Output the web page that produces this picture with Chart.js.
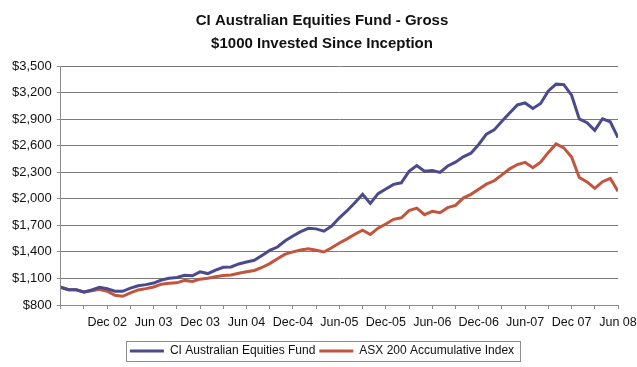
<!DOCTYPE html>
<html>
<head>
<meta charset="utf-8">
<script src="https://cdn.jsdelivr.net/npm/chart.js@4.4.1/dist/chart.umd.min.js"></script>
<style>
  html, body { margin: 0; padding: 0; background: #fff; }
  #wrap { width: 637px; height: 367px; }
</style>
</head>
<body>
<div id="wrap"><canvas id="chart" width="637" height="367"></canvas></div>
<script>
// monthly values, Jun 02 .. Jun 08 (73 points)
const fundValues = [
  1000, 972, 972, 947, 970, 999, 983, 956, 955, 990,
  1018, 1030, 1048, 1082, 1101, 1110, 1135, 1130, 1175, 1155,
  1195, 1226, 1230, 1264, 1286, 1305, 1360, 1417, 1455, 1525,
  1580, 1628, 1666, 1660, 1634, 1692, 1785, 1865, 1956, 2052,
  1947, 2058, 2110, 2163, 2180, 2310, 2375, 2312, 2318, 2297,
  2370, 2413, 2474, 2515, 2613, 2730, 2778, 2875, 2968, 3060,
  3083, 3021, 3077, 3218, 3295, 3290, 3170, 2903, 2860, 2773,
  2904, 2870, 2690
];
const asxValues = [
  1000, 972, 972, 945, 962, 978, 955, 910, 898, 938,
  970, 985, 1003, 1035, 1045, 1050, 1078, 1065, 1092, 1103,
  1118, 1133, 1140, 1158, 1176, 1190, 1224, 1268, 1323, 1375,
  1400, 1422, 1434, 1418, 1399, 1446, 1500, 1547, 1600, 1646,
  1597, 1668, 1715, 1768, 1785, 1866, 1894, 1820, 1858, 1842,
  1900, 1926, 2008, 2050, 2107, 2165, 2203, 2270, 2338, 2387,
  2412, 2351, 2414, 2524, 2620, 2575, 2471, 2240, 2190, 2118,
  2193, 2230, 2085
];
// labelled every 6 months starting at Dec 02 (month index 6)
const xTickLabels = ['Dec 02', 'Jun 03', 'Dec 03', 'Jun 04', 'Dec-04', 'Jun-05',
  'Dec-05', 'Jun-06', 'Dec-06', 'Jun-07', 'Dec 07', 'Jun 08'];
const seriesNames = ['CI Australian Equities Fund', 'ASX 200 Accumulative Index'];
const titleLines = ['CI Australian Equities Fund - Gross', '$1000 Invested Since Inception'];

const FONT = "Arial, 'Liberation Sans', sans-serif";
const BLUE = '#4b4a8c';
const RED = '#c2553c';

// frame around the legend, like the spreadsheet original
const legendFrame = {
  id: 'legendFrame',
  afterDraw(chart){
    const lg = chart.legend;
    if(!lg || !lg.legendHitBoxes || !lg.legendHitBoxes.length) return;
    const boxes = lg.legendHitBoxes;
    const left = Math.min(...boxes.map(b => b.left)) - 4;
    const right = Math.max(...boxes.map(b => b.left + b.width)) + 6;
    const top = Math.min(...boxes.map(b => b.top)) - 4;
    const bottom = Math.max(...boxes.map(b => b.top + b.height)) + 4;
    const ctx = chart.ctx;
    ctx.save();
    ctx.strokeStyle = '#8c8c8c';
    ctx.lineWidth = 1;
    ctx.strokeRect(Math.round(left) + 0.5, Math.round(top) + 0.5, Math.round(right - left), Math.round(bottom - top));
    ctx.restore();
  }
};

new Chart(document.getElementById('chart'), {
  type: 'line',
  data: {
    datasets: [
      {
        label: seriesNames[0],
        data: fundValues.map((v, i) => ({ x: i, y: v })),
        borderColor: BLUE,
        backgroundColor: BLUE,
        borderWidth: 3,
        pointRadius: 0,
        tension: 0
      },
      {
        label: seriesNames[1],
        data: asxValues.map((v, i) => ({ x: i, y: v })),
        borderColor: RED,
        backgroundColor: RED,
        borderWidth: 3,
        pointRadius: 0,
        tension: 0
      }
    ]
  },
  options: {
    responsive: false,
    animation: false,
    layout: { padding: { left: 7, right: 0, top: 4, bottom: 0 } },
    plugins: {
      title: {
        display: true,
        text: titleLines,
        color: '#111',
        font: { family: FONT, size: 15, weight: 'bold', lineHeight: 1.5 },
        padding: { top: 6, bottom: 11 }
      },
      legend: {
        position: 'bottom',
        labels: {
          color: '#111',
          font: { family: FONT, size: 12 },
          usePointStyle: true,
          pointStyle: 'line',
          pointStyleWidth: 34,
          boxHeight: 12,
          padding: 4
        }
      },
      tooltip: { enabled: false }
    },
    scales: {
      x: {
        type: 'linear',
        min: 0,
        max: 72,
        border: { color: '#8c8c8c', width: 1 },
        grid: { drawOnChartArea: false, color: '#8c8c8c', tickLength: 4 },
        ticks: {
          stepSize: 3,
          autoSkip: false,
          maxRotation: 0,
          color: '#111',
          font: { family: FONT, size: 12.5 },
          padding: 6,
          callback: (v) => (v > 0 && v % 6 === 0) ? xTickLabels[v / 6 - 1] : ''
        },
        afterFit: (s) => { s.height += 5; s.paddingRight = 19; }
      },
      y: {
        min: 800,
        max: 3500,
        border: { color: '#8c8c8c', width: 1 },
        grid: {
          color: '#7a7a7a',
          borderDash: [2, 2],
          tickBorderDash: [],
          tickColor: '#8c8c8c',
          tickLength: 4
        },
        ticks: {
          stepSize: 300,
          color: '#111',
          font: { family: FONT, size: 13 },
          padding: 5,
          callback: (v) => '$' + v.toLocaleString('en-US')
        }
      }
    }
  },
  plugins: [legendFrame]
});
</script>
</body>
</html>
